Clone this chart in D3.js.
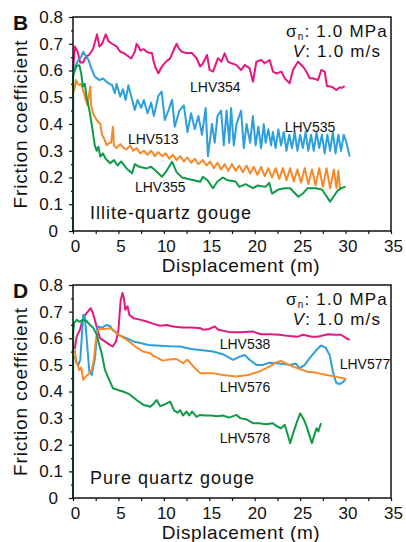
<!DOCTYPE html>
<html>
<head>
<meta charset="utf-8">
<script src="https://cdn.jsdelivr.net/npm/d3@7"></script>
<style>
body { margin: 0; background: #fff; }
svg text { font-family: 'Liberation Sans', Arial, sans-serif; fill: #111; }
</style>
</head>
<body>
<svg></svg>
<script>
// values: [displacement (m), friction coefficient]
// panel B, illite-quartz gouge
const lhv354 = [[0,0.60],[0.2,0.69],[0.5,0.67],[0.8,0.63],[1.1,0.63],[1.4,0.65],[1.8,0.66],[2.2,0.68],[2.65,0.735],[2.9,0.69],[3.2,0.70],[3.6,0.735],[3.9,0.71],[4.3,0.70],[4.8,0.69],[5.2,0.67],[5.6,0.665],[6.0,0.655],[6.4,0.645],[6.8,0.67],[7.0,0.70],[7.2,0.69],[7.4,0.675],[7.8,0.68],[8.1,0.67],[8.5,0.665],[8.7,0.665],[8.9,0.63],[9.1,0.61],[9.4,0.59],[9.7,0.61],[9.9,0.62],[10.3,0.635],[10.7,0.645],[11.0,0.67],[11.4,0.70],[11.7,0.68],[12.0,0.67],[12.5,0.665],[13.1,0.665],[13.6,0.645],[14.0,0.615],[14.3,0.627],[14.75,0.658],[15.04,0.602],[15.41,0.596],[15.96,0.646],[16.33,0.633],[16.69,0.664],[17.06,0.633],[17.43,0.627],[17.97,0.621],[18.5,0.602],[18.9,0.621],[19.44,0.608],[19.81,0.558],[20.18,0.633],[20.73,0.639],[21.1,0.627],[21.65,0.639],[22.01,0.596],[22.38,0.589],[22.93,0.596],[23.3,0.571],[23.85,0.552],[24.21,0.602],[24.76,0.633],[25.31,0.615],[25.68,0.596],[26.05,0.571],[26.41,0.571],[26.96,0.564],[27.33,0.602],[27.7,0.596],[27.95,0.542],[28.3,0.54],[28.6,0.537],[28.98,0.527],[29.35,0.537],[29.6,0.535],[29.9,0.542]];
const lhv535 = [[0,0.60],[0.3,0.62],[0.6,0.64],[0.9,0.65],[1.13,0.67],[1.4,0.655],[1.7,0.64],[2.0,0.61],[2.4,0.577],[2.9,0.564],[3.3,0.57],[3.7,0.558],[4.0,0.55],[4.3,0.546],[4.6,0.515],[4.8,0.55],[5.2,0.502],[5.5,0.53],[5.8,0.49],[6.1,0.545],[6.4,0.505],[6.8,0.452],[7.1,0.49],[7.5,0.46],[7.8,0.49],[8.2,0.44],[8.6,0.48],[8.9,0.43],[9.4,0.506],[9.76,0.521],[10.1,0.415],[10.5,0.45],[10.9,0.49],[11.2,0.39],[11.7,0.45],[12.2,0.47],[12.6,0.37],[13.0,0.44],[13.4,0.38],[13.8,0.43],[14.2,0.36],[14.6,0.46],[14.85,0.28],[15.3,0.40],[15.6,0.33],[15.9,0.43],[16.3,0.45],[16.6,0.32],[16.9,0.45],[17.2,0.33],[17.4,0.46],[17.7,0.32],[18.0,0.40],[18.5,0.45],[18.8,0.31],[19.1,0.40],[19.5,0.33],[19.8,0.43],[20.1,0.32],[20.4,0.39],[20.7,0.31],[21.0,0.40],[21.2,0.33],[21.5,0.38],[21.8,0.32],[22.0,0.37],[22.3,0.31],[22.6,0.38],[22.9,0.32],[23.2,0.37],[23.5,0.30],[23.8,0.36],[24.1,0.31],[24.4,0.37],[24.7,0.30],[25.0,0.36],[25.3,0.31],[25.6,0.37],[25.9,0.30],[26.2,0.36],[26.5,0.30],[26.8,0.37],[27.1,0.31],[27.4,0.36],[27.7,0.29],[28.0,0.36],[28.3,0.30],[28.6,0.37],[28.9,0.29],[29.2,0.36],[29.5,0.30],[29.8,0.36],[30.1,0.33],[30.45,0.278]];
const lhv513 = [[0.1,0.52],[0.33,0.564],[0.5,0.55],[0.73,0.546],[0.9,0.55],[1.1,0.527],[1.25,0.51],[1.4,0.49],[1.6,0.47],[1.9,0.54],[2.0,0.47],[2.2,0.44],[2.6,0.415],[3.0,0.40],[3.2,0.36],[3.5,0.34],[3.7,0.321],[4.0,0.33],[4.2,0.33],[4.4,0.39],[4.5,0.32],[4.8,0.31],[5.2,0.325],[5.6,0.31],[5.9,0.305],[6.3,0.32],[6.6,0.30],[7.0,0.31],[7.4,0.29],[7.8,0.30],[8.2,0.285],[8.6,0.30],[9.0,0.28],[9.4,0.295],[9.8,0.28],[10.2,0.29],[10.6,0.27],[11.0,0.285],[11.4,0.265],[11.8,0.28],[12.2,0.26],[12.6,0.275],[13.0,0.255],[13.4,0.27],[13.8,0.25],[14.3,0.265],[14.7,0.245],[15.1,0.26],[15.5,0.235],[15.9,0.255],[16.3,0.23],[16.7,0.25],[17.1,0.225],[17.5,0.25],[17.9,0.225],[18.3,0.245],[18.7,0.22],[19.1,0.245],[19.5,0.215],[19.9,0.24],[20.3,0.21],[20.7,0.24],[21.1,0.205],[21.5,0.235],[21.9,0.20],[22.3,0.235],[22.7,0.195],[23.1,0.235],[23.5,0.19],[23.9,0.235],[24.3,0.185],[24.7,0.23],[25.1,0.18],[25.5,0.235],[25.9,0.175],[26.3,0.23],[26.7,0.17],[27.1,0.235],[27.5,0.165],[27.9,0.235],[28.3,0.16],[28.7,0.23],[29.0,0.16],[29.2,0.225],[29.4,0.153]];
const lhv355 = [[0,0],[0.02,0.58],[0.2,0.60],[0.4,0.617],[0.7,0.62],[0.9,0.59],[1.1,0.54],[1.3,0.55],[1.5,0.50],[1.8,0.452],[2.1,0.39],[2.2,0.365],[2.4,0.32],[2.6,0.30],[2.8,0.315],[3.0,0.278],[3.3,0.29],[3.6,0.27],[4.1,0.253],[4.5,0.265],[4.9,0.245],[5.3,0.26],[5.9,0.234],[6.5,0.216],[6.8,0.25],[7.3,0.24],[8.1,0.234],[8.6,0.24],[9.1,0.225],[9.8,0.203],[10.2,0.22],[10.9,0.259],[11.4,0.22],[12.0,0.20],[12.6,0.195],[13.3,0.19],[14.0,0.184],[14.3,0.203],[14.8,0.19],[15.4,0.16],[15.9,0.185],[16.5,0.20],[17.0,0.19],[17.9,0.185],[18.3,0.165],[19.0,0.175],[19.8,0.16],[20.3,0.17],[21.2,0.165],[21.6,0.18],[21.9,0.14],[22.6,0.155],[23.3,0.16],[23.9,0.16],[24.8,0.128],[25.3,0.14],[25.8,0.16],[26.7,0.16],[27.4,0.155],[27.9,0.13],[28.3,0.11],[28.7,0.13],[29.1,0.15],[29.5,0.16],[30.0,0.166]];

// panel D, pure quartz gouge
const lhv538 = [[0.2,0.56],[0.4,0.606],[0.77,0.632],[1.13,0.68],[1.5,0.694],[1.95,0.713],[2.2,0.694],[2.6,0.644],[2.97,0.60],[3.5,0.588],[4.07,0.575],[4.37,0.569],[4.73,0.588],[5.0,0.632],[5.25,0.744],[5.45,0.77],[5.6,0.75],[5.76,0.707],[6.0,0.72],[6.2,0.688],[6.64,0.675],[7.37,0.67],[8.1,0.663],[8.8,0.655],[9.58,0.647],[10.3,0.65],[11.0,0.644],[12.0,0.64],[13.0,0.64],[14.0,0.638],[14.3,0.632],[15.0,0.635],[15.6,0.644],[16.0,0.632],[17.25,0.623],[18.5,0.623],[19.8,0.625],[20.7,0.615],[21.7,0.615],[22.75,0.613],[23.8,0.608],[24.76,0.606],[25.3,0.613],[26.3,0.606],[26.9,0.606],[28.06,0.615],[28.8,0.613],[29.5,0.613],[30.08,0.60],[30.45,0.594]];
const lhv577 = [[0.2,0.531],[0.4,0.506],[0.6,0.50],[0.8,0.52],[1.13,0.688],[1.3,0.68],[1.5,0.60],[1.8,0.475],[2.06,0.462],[2.42,0.525],[2.72,0.644],[3.2,0.64],[3.7,0.65],[4.1,0.645],[4.44,0.628],[5.2,0.61],[5.9,0.60],[6.64,0.588],[7.4,0.582],[8.3,0.575],[9.58,0.572],[10.6,0.57],[11.8,0.569],[13.0,0.56],[14.0,0.556],[15.4,0.55],[16.5,0.54],[17.6,0.519],[18.3,0.53],[18.9,0.537],[19.4,0.52],[20.2,0.50],[20.9,0.50],[21.6,0.508],[22.7,0.505],[23.85,0.50],[24.5,0.505],[24.95,0.488],[25.5,0.50],[26.05,0.525],[26.8,0.556],[27.3,0.573],[27.8,0.565],[28.25,0.537],[28.6,0.475],[28.8,0.45],[29.0,0.431],[29.4,0.428],[29.7,0.436],[30.0,0.444]];
const lhv576 = [[0.2,0.556],[0.4,0.506],[0.58,0.494],[0.7,0.48],[0.9,0.49],[1.13,0.444],[1.4,0.456],[1.7,0.465],[2.06,0.48],[2.3,0.52],[2.5,0.588],[2.68,0.625],[2.97,0.635],[3.5,0.635],[4.07,0.638],[4.5,0.63],[5.0,0.613],[5.9,0.595],[6.8,0.57],[7.7,0.55],[8.5,0.544],[8.8,0.535],[9.9,0.516],[10.6,0.52],[11.4,0.522],[12.1,0.506],[12.6,0.52],[13.4,0.488],[14.0,0.469],[14.3,0.469],[15.4,0.469],[16.5,0.462],[18.0,0.456],[19.3,0.462],[20.5,0.475],[21.65,0.494],[22.4,0.51],[22.9,0.515],[23.5,0.505],[24.2,0.494],[24.9,0.485],[25.7,0.475],[26.8,0.47],[27.9,0.462],[29.0,0.455],[30.1,0.447]];
const lhv578 = [[0,0],[0.02,0.62],[0.1,0.656],[0.4,0.669],[0.7,0.662],[1.13,0.669],[1.5,0.665],[1.7,0.656],[2.24,0.638],[2.6,0.615],[2.8,0.588],[3.15,0.544],[3.52,0.481],[3.9,0.45],[4.4,0.412],[5.0,0.405],[5.5,0.40],[6.2,0.39],[7.0,0.368],[7.74,0.35],[8.5,0.343],[8.9,0.355],[9.2,0.368],[9.6,0.345],[10.0,0.35],[10.7,0.362],[11.1,0.33],[11.5,0.32],[11.8,0.33],[12.1,0.31],[12.5,0.325],[12.8,0.31],[13.1,0.325],[13.6,0.305],[14.0,0.312],[14.6,0.31],[15.2,0.31],[15.9,0.307],[16.5,0.31],[17.2,0.302],[18.0,0.312],[18.4,0.30],[19.1,0.295],[19.8,0.281],[20.5,0.281],[21.2,0.277],[22.0,0.281],[22.4,0.27],[22.9,0.262],[23.3,0.275],[23.7,0.23],[23.9,0.206],[24.2,0.24],[24.6,0.281],[25.0,0.318],[25.4,0.295],[25.7,0.27],[26.0,0.237],[26.3,0.206],[26.6,0.24],[26.8,0.262],[27.0,0.25],[27.3,0.281]];

const yTicks = [0, 0.1, 0.2, 0.3, 0.4, 0.5, 0.6, 0.7, 0.8];
const yMinor = [0.05, 0.15, 0.25, 0.35, 0.45, 0.55, 0.65, 0.75];
const xTicks = [0, 5, 10, 15, 20, 25, 30, 35];
const xMinor = [2.5, 7.5, 12.5, 17.5, 22.5, 27.5, 32.5];

const pink = '#e4177f';
const blue = '#2d9fdc';
const orange = '#f68a2a';
const green = '#0f9a48';

const svg = d3.select('svg')
  .attr('width', 406)
  .attr('height', 542);

const x = d3.scaleLinear().domain([0, 35]).range([73, 391]);

const drawPanel = (p) => {
  const y = d3.scaleLinear().domain([0, 0.8]).range([p.bottom, p.top]);
  const g = svg.append('g');

  // ticks
  g.append('g')
    .attr('transform', `translate(${x(0)},0)`)
    .call(d3.axisLeft(y).tickValues(yMinor).tickSize(2).tickFormat(''))
    .call(a => a.select('.domain').remove());
  const ya = g.append('g')
    .attr('transform', `translate(${x(0)},0)`)
    .call(d3.axisLeft(y).tickValues(yTicks).tickSize(4).tickPadding(6)
      .tickFormat(d => d === 0 ? '0' : d3.format('.1f')(d)))
    .call(a => a.select('.domain').remove());
  ya.selectAll('text').style('font-size', '17px').attr('fill', '#111');
  ya.selectAll('.tick').filter(d => d === 0).select('text').attr('dx', -5);

  const xa = g.append('g')
    .attr('transform', `translate(0,${p.bottom})`)
    .call(d3.axisBottom(x).tickValues(xTicks).tickSize(3).tickPadding(6))
    .call(a => a.select('.domain').remove());
  xa.selectAll('text').style('font-size', '17px').attr('fill', '#111').attr('dx', 2);
  g.append('g')
    .attr('transform', `translate(0,${p.bottom})`)
    .call(d3.axisBottom(x).tickValues(xMinor).tickSize(3).tickFormat(''))
    .call(a => a.select('.domain').remove());
  g.selectAll('.tick line').attr('stroke', '#111').attr('stroke-width', 1.2);

  // curves
  const line = d3.line().x(d => x(d[0])).y(d => y(d[1]));
  p.series.forEach(s => {
    g.append('path')
      .datum(s.data)
      .attr('d', line)
      .attr('fill', 'none')
      .attr('stroke', s.color)
      .attr('stroke-width', 2)
      .attr('stroke-linejoin', 'round');
  });

  // frame
  g.append('rect')
    .attr('x', x(0))
    .attr('y', p.top)
    .attr('width', x(35) - x(0))
    .attr('height', p.bottom - p.top)
    .attr('fill', 'none')
    .attr('stroke', '#111')
    .attr('stroke-width', 1.5);

  // texts
  p.labels.forEach(l => {
    g.append('text')
      .attr('x', x(l.at[0]))
      .attr('y', y(l.at[1]))
      .style('font-size', l.size || '14px')
      .style('letter-spacing', l.spacing || '0px')
      .text(l.text);
  });

  const cond = g.append('text')
    .attr('x', x(29.05))
    .attr('y', p.top + 20)
    .attr('text-anchor', 'middle')
    .style('font-size', '17px')
    .style('letter-spacing', '1.2px');
  cond.append('tspan').text('σ');
  cond.append('tspan').attr('dy', 3).style('font-size', '10px').text('n');
  cond.append('tspan').attr('dy', -3).text(': 1.0 MPa');
  const vel = g.append('text')
    .attr('x', x(29.05))
    .attr('y', p.top + 40)
    .attr('text-anchor', 'middle')
    .style('font-size', '17px')
    .style('letter-spacing', '1.2px');
  vel.append('tspan').style('font-style', 'italic').text('V');
  vel.append('tspan').text(': 1.0 m/s');

  g.append('text')
    .attr('x', 13)
    .attr('y', p.top + 13)
    .style('font-size', '21px')
    .style('font-weight', 'bold')
    .text(p.letter);

  g.append('text')
    .attr('transform', `translate(27,${(p.top + p.bottom) / 2}) rotate(-90)`)
    .attr('text-anchor', 'middle')
    .style('font-size', '19px')
    .style('letter-spacing', '0.8px')
    .text('Friction coefficient');

  g.append('text')
    .attr('x', 241)
    .attr('y', p.bottom + 41)
    .attr('text-anchor', 'middle')
    .style('font-size', '19px')
    .style('letter-spacing', '0.6px')
    .text('Displacement (m)');
};

drawPanel({
  letter: 'B',
  top: 17,
  bottom: 231,
  series: [
    {data: lhv354, color: pink},
    {data: lhv535, color: blue},
    {data: lhv513, color: orange},
    {data: lhv355, color: green}
  ],
  labels: [
    {text: 'LHV354', at: [12.88, 0.52]},
    {text: 'LHV535', at: [23.3, 0.37]},
    {text: 'LHV513', at: [6.05, 0.325]},
    {text: 'LHV355', at: [6.82, 0.146]},
    {text: 'Illite-quartz gouge', at: [1.87, 0.045], size: '18px', spacing: '1px'}
  ]
});

drawPanel({
  letter: 'D',
  top: 285,
  bottom: 498,
  series: [
    {data: lhv538, color: pink},
    {data: lhv577, color: blue},
    {data: lhv576, color: orange},
    {data: lhv578, color: green}
  ],
  labels: [
    {text: 'LHV538', at: [16.15, 0.561]},
    {text: 'LHV577', at: [29.35, 0.486]},
    {text: 'LHV576', at: [16.15, 0.398]},
    {text: 'LHV578', at: [16.15, 0.205]},
    {text: 'Pure quartz gouge', at: [1.87, 0.053], size: '18px', spacing: '1px'}
  ]
});
</script>
</body>
</html>
